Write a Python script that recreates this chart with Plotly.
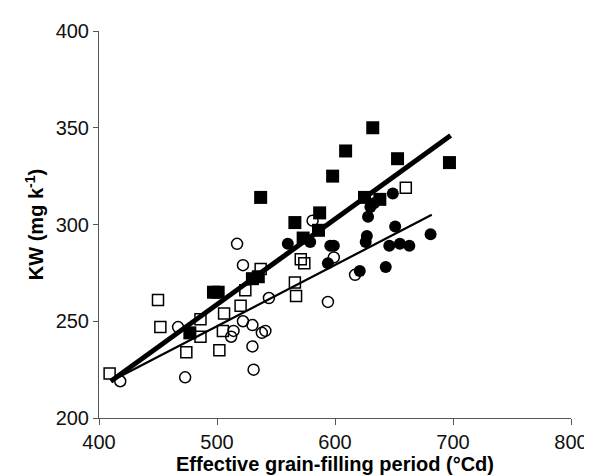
import plotly.graph_objects as go

# filled squares
fsq_x = [477, 497, 501, 530, 535, 537, 566, 573, 586, 587, 598, 609, 625, 632, 638, 653, 697]
fsq_y = [244, 265, 265, 272, 273, 314, 301, 293, 297, 306, 325, 338, 314, 350, 313, 334, 332]

# open squares
osq_x = [409, 450, 452, 474, 486, 486, 502, 505, 506, 520, 524, 537, 566, 567, 571, 574, 660]
osq_y = [223, 261, 247, 234, 242, 251, 235, 245, 254, 258, 266, 277, 270, 263, 282, 280, 319]

# filled circles
fci_x = [560, 579, 594, 596, 599, 621, 626, 627, 628, 630, 633, 643, 646, 649, 651, 655, 663, 681]
fci_y = [290, 291, 280, 289, 289, 276, 291, 294, 304, 309, 311, 278, 289, 316, 299, 290, 289, 295]

# open circles
oci_x = [418, 467, 473, 512, 514, 517, 522, 522, 530, 530, 531, 538, 541, 544, 581, 594, 599, 617]
oci_y = [219, 247, 221, 242, 245, 290, 279, 250, 248, 237, 225, 244, 245, 262, 302, 260, 283, 274]

# regression lines (end points)
thick_x = [410, 698]
thick_y = [219, 346]
thin_x = [410, 682]
thin_y = [219, 305]

fig = go.Figure()

fig.add_trace(go.Scatter(x=thick_x, y=thick_y, mode='lines',
                         line=dict(color='black', width=5), hoverinfo='none'))
fig.add_trace(go.Scatter(x=thin_x, y=thin_y, mode='lines',
                         line=dict(color='black', width=2.2), hoverinfo='none'))

fig.add_trace(go.Scatter(x=osq_x, y=osq_y, mode='markers',
                         marker=dict(symbol='square-open', size=11, color='black',
                                     line=dict(width=1.5, color='black'))))
fig.add_trace(go.Scatter(x=oci_x, y=oci_y, mode='markers',
                         marker=dict(symbol='circle-open', size=11, color='black',
                                     line=dict(width=1.5, color='black'))))
fig.add_trace(go.Scatter(x=fsq_x, y=fsq_y, mode='markers',
                         marker=dict(symbol='square', size=13, color='black')))
fig.add_trace(go.Scatter(x=fci_x, y=fci_y, mode='markers',
                         marker=dict(symbol='circle', size=12, color='black')))

axis_font = dict(family='Liberation Sans, Arial', size=20, color='#111')
title_font = dict(family='Liberation Sans, Arial', size=20, color='black')

fig.update_xaxes(range=[400, 800], tickvals=[400, 500, 600, 700, 800],
                 showgrid=False, zeroline=False, showline=True, linecolor='#555',
                 linewidth=1, ticks='outside', ticklen=6, tickcolor='#555',
                 tickfont=axis_font,
                 title=dict(text='<b>Effective grain-filling period (°Cd)</b>',
                            font=title_font, standoff=2))
fig.update_yaxes(range=[200, 400], tickvals=[200, 250, 300, 350, 400],
                 showgrid=False, zeroline=False, showline=True, linecolor='#555',
                 linewidth=1, ticks='outside', ticklen=5, tickcolor='#555',
                 tickfont=axis_font,
                 title=dict(text='<b>KW (mg k<sup>-1</sup>)</b>',
                            font=title_font, standoff=6))

fig.update_layout(width=592, height=476, showlegend=False,
                  plot_bgcolor='white', paper_bgcolor='white',
                  margin=dict(l=91, r=21, t=20, b=66))

fig.write_html("out.html")
